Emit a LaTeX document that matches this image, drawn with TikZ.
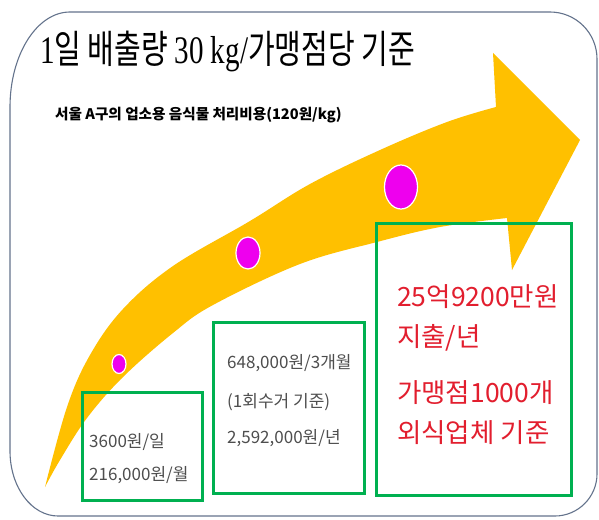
\documentclass[tikz,border=0pt]{standalone}
\usepackage{fontspec}
\setmainfont{Noto Sans CJK KR}
\newfontfamily\lserif{Liberation Serif}
\usetikzlibrary{shapes.geometric}
\definecolor{arrowc}{RGB}{255,192,0}
\definecolor{dotc}{RGB}{238,0,238}
\definecolor{boxc}{RGB}{0,176,80}
\definecolor{redt}{RGB}{226,30,46}
\definecolor{grayt}{RGB}{78,78,78}
\definecolor{framec}{RGB}{100,115,140}
\tikzset{
  frame/.style={draw=framec, line width=1.1pt, fill=white},
  dot/.style={ellipse, fill=dotc, draw=white, line width=1.2pt, inner sep=0pt},
  gbox/.style={rectangle, draw=boxc, line width=3pt, inner sep=0pt},
  btext/.style={anchor=west, inner sep=0pt, text=grayt, font=\fontsize{17pt}{20pt}\selectfont},
  rtext/.style={anchor=west, inner sep=0pt, text=redt, font=\fontsize{26.5pt}{30pt}\selectfont},
}
\begin{document}
\begin{tikzpicture}[x=1pt,y=-1pt]
\useasboundingbox (0,0) rectangle (599,519);
% frame
\draw[frame] (70,12) -- (550,12) .. controls (576,12) and (597,33) .. (597,59)
  -- (597,474) .. controls (597,497) and (578,516) .. (555,516)
  -- (58,516) .. controls (31.5,516) and (10,487) .. (10,451)
  -- (10,107) .. controls (10,54.6) and (36.9,12) .. (70,12) -- cycle;
% arrow
\fill[arrowc] plot[smooth, tension=0.6] coordinates {(45,487) (67,407) (90,355) (123,309) (173,266) (250,221) (310,184) (380,150) (447,122) (496,107)}
  -- (493,53) -- (580,140) -- (512,270) -- (507,218)
  -- plot[smooth, tension=0.6] coordinates {(507,218) (440,227) (377,242) (300,264) (213,305) (173,333) (123,377) (87,418) (60,460) (45,487)} -- cycle;
% dots
\node[dot, minimum width=14pt, minimum height=19pt] (c1) at (119,364) {};
\node[dot, minimum width=24pt, minimum height=32pt] (c2) at (248,253) {};
\node[dot, minimum width=33pt, minimum height=44pt] (c3) at (401,187) {};
% boxes
\node[gbox, minimum width=120pt, minimum height=108pt] (b1) at (142,446) {};
\node[gbox, minimum width=151pt, minimum height=171pt] (b2) at (288.5,407.5) {};
\node[gbox, minimum width=195pt, minimum height=272pt] (b3) at (473.5,359) {};
% titles
\node[anchor=west, inner sep=0pt] (title) at (40,51) {\scalebox{0.745}[1]{\fontsize{39pt}{42pt}\selectfont{\lserif 1}일 배출량 {\lserif 30 kg/}가맹점당 기준}};
\node[anchor=west, inner sep=0pt] (sub) at (55,115) {\fontsize{14.6pt}{17pt}\selectfont\bfseries 서울 A구의 업소용 음식물 처리비용(120원/kg)};
% box texts
\node[btext] (t1a) at (89,442) {3600원/일};
\node[btext] (t1b) at (89,475) {216,000원/월};
\node[btext] (t2a) at (227,363) {648,000원/3개월};
\node[btext] (t2b) at (227,402) {(1회수거 기준)};
\node[btext] (t2c) at (227,438) {2,592,000원/년};
\node[rtext] (t3a) at (397,297) {25억9200만원};
\node[rtext] (t3b) at (397,338) {지출/년};
\node[rtext] (t3c) at (397,393) {가맹점1000개};
\node[rtext] (t3d) at (397,433) {외식업체 기준};
\end{tikzpicture}
\end{document}
